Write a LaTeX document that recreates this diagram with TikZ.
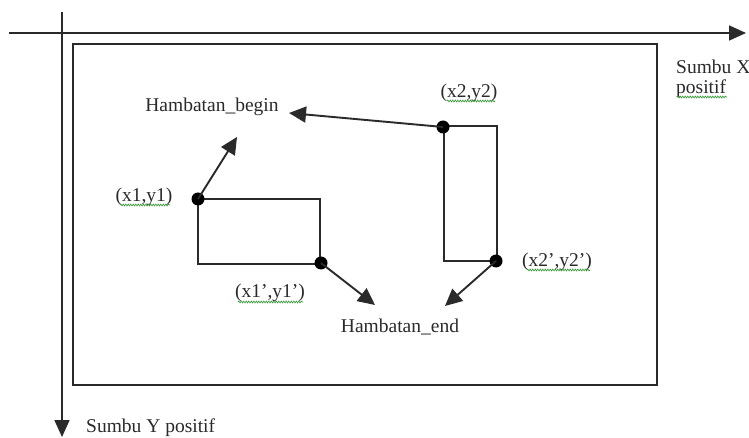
\documentclass[tikz,border=0pt]{standalone}
\usepackage{fontspec}
\setmainfont{Liberation Serif}
\usetikzlibrary{arrows.meta,decorations.pathmorphing}
\definecolor{ink}{HTML}{2A2A2A}
\definecolor{spellgreen}{HTML}{3C9A3C}
\begin{document}
\begin{tikzpicture}[x=1pt,y=-1pt,
  lbl/.style={font=\fontsize{19.5}{22}\selectfont, inner sep=0pt, text=ink},
  arr/.style={draw=ink, line width=1.9pt, -{Triangle[length=17pt,width=16pt]}},
  axis/.style={draw=ink, line width=1.8pt, -{Triangle[length=17pt,width=15pt]}},
  box/.style={draw=ink, line width=1.7pt},
  dotc/.style={circle, fill=black, inner sep=0pt, minimum size=13pt},
  spell/.style={draw=spellgreen, line width=0.7pt, decorate,
    decoration={snake, amplitude=0.9pt, segment length=2.5pt}}]
\useasboundingbox (0,0) rectangle (749,438);
% axes
\coordinate (xs) at (9,33);
\coordinate (xe) at (746,33);
\coordinate (ys) at (62,12);
\coordinate (ye) at (62,437);
\draw[axis] (xs) -- (xe);
\draw[axis] (ys) -- (ye);
% outer frame
\draw[box] (73,44) rectangle (657,385);
% rectangles
\draw[box] (198,199) rectangle (320,264);
\draw[box] (444,126) rectangle (497,261);
% corner dots
\node[dotc] (p1) at (198,199) {};
\node[dotc] (p1b) at (321,263) {};
\node[dotc] (p2) at (443,127) {};
\node[dotc] (p2b) at (496,261) {};
% labels
\node[lbl] (hb) at (212,107) {Hambatan\_begin};
\node[lbl] (he) at (400,327) {Hambatan\_end};
\node[lbl] (l1) at (144,197) {(x1,y1)};
\node[lbl] (l1b) at (270,293) {(x1',y1')};
\node[lbl] (l2) at (469,93) {(x2,y2)};
\node[lbl] (l2b) at (557,262) {(x2',y2')};
\node[lbl, anchor=west] (sx1) at (676,67) {Sumbu X};
\node[lbl, anchor=west] (sx2) at (676,89) {positif};
\node[lbl, anchor=west] (sy) at (86,428) {Sumbu Y positif};
% spell-check underlines
\draw[spell] (120,205) -- (170,205);
\draw[spell] (238,302) -- (303,302);
\draw[spell] (447,101) -- (495,101);
\draw[spell] (527,270) -- (590,270);
\draw[spell] (677,97) -- (727,97);
% arrows
\coordinate (t1) at (237,137);
\draw[arr] (p1.center) -- (t1);
\coordinate (t2) at (289,113);
\draw[arr] (p2.center) -- (t2);
\coordinate (t3) at (375,305);
\draw[arr] (p1b.center) -- (t3);
\coordinate (t4) at (445,306);
\draw[arr] (p2b.center) -- (t4);
\end{tikzpicture}
\end{document}
